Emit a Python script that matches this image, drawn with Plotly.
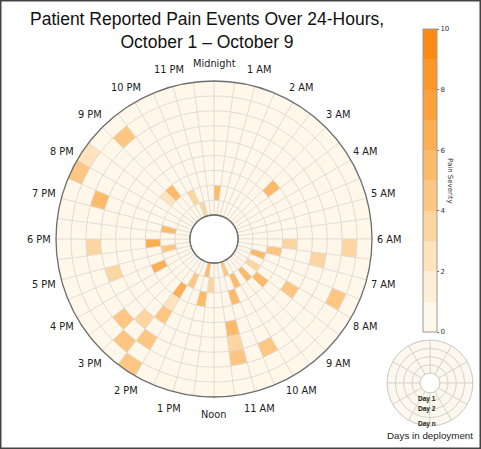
import numpy as np
import plotly.graph_objects as go

N_DAYS = 9
N_SLOTS = 48  # half-hour bins around the clock

hour_labels = [
    "Midnight", "1 AM", "2 AM", "3 AM", "4 AM", "5 AM", "6 AM", "7 AM",
    "8 AM", "9 AM", "10 AM", "11 AM", "Noon", "1 PM", "2 PM", "3 PM",
    "4 PM", "5 PM", "6 PM", "7 PM", "8 PM", "9 PM", "10 PM", "11 PM",
]

# pain events: day in deployment (ring), half-hour slot, severity
event_day = [
    2, 1, 2, 3, 3, 4, 8, 9, 9, 7,
    2, 3, 2, 7, 3, 6, 3, 2, 1, 2,
    3, 4, 5, 6, 7, 7, 8, 9, 5, 6,
    7, 7, 3, 1, 2, 2, 2, 2, 3, 3,
    4, 5, 6, 8, 8,
]
event_slot = [
    0, 45, 44, 42, 41, 6, 42, 40, 39, 38,
    37, 35, 34, 35, 32, 33, 28, 27, 25, 24,
    25, 28, 28, 29, 30, 28, 29, 28, 22, 22,
    22, 20, 21, 21, 20, 18, 16, 14, 17, 13,
    12, 16, 13, 15, 12,
]
event_severity = [
    5.5, 3, 3.5, 5, 2.5, 5, 4, 2, 4, 5,
    5, 6, 4.5, 3, 6, 3, 6, 4.5, 5, 3,
    5, 2.5, 4.5, 3, 4.5, 4.5, 4.5, 4, 5, 3,
    4, 4, 5, 4.5, 5, 5, 3, 5, 5, 4,
    3, 4.5, 3, 4.5, 3,
]

severity_ticks = [0, 2, 4, 6, 8, 10]
band_colors = [
    "#fff8ea", "#feefd8", "#fee3bd", "#fdd5a0", "#fdc783",
    "#fdba69", "#fdad52", "#fda13c", "#fd9628", "#fd8b12",
]

W, H = 481, 449

# stepped colour scale, one band per severity unit
colorscale = []
for i, c in enumerate(band_colors):
    colorscale.append([i / len(band_colors), c])
    colorscale.append([(i + 1) / len(band_colors), c])

grid = np.zeros((N_DAYS, N_SLOTS))
for d, s, v in zip(event_day, event_slot, event_severity):
    grid[d - 1, s] = v

slot_width = 360 / N_SLOTS
r_vals, base_vals, theta_vals, color_vals = [], [], [], []
for d in range(N_DAYS):
    for s in range(N_SLOTS):
        r_vals.append(1)
        base_vals.append(d)
        theta_vals.append(s * slot_width + slot_width / 2)
        color_vals.append(grid[d, s])

cx, cy, R = 214, 239, 158
hole_px = 24
label_px = 175.5  # hour labels are centred on this radius

kx, ky, kR = 430, 383, 43

fig = go.Figure()

fig.add_trace(
    go.Barpolar(
        r=r_vals,
        base=base_vals,
        theta=theta_vals,
        width=slot_width,
        marker=dict(
            color=color_vals,
            colorscale=colorscale,
            cmin=0,
            cmax=10,
            line=dict(color="#dedad2", width=0.7),
            colorbar=dict(
                x=423 / W,
                xanchor="left",
                xpad=0,
                y=1 - 180.5 / H,
                yanchor="middle",
                ypad=0,
                thickness=14,
                len=303,
                lenmode="pixels",
                outlinecolor="#9a9a9a",
                outlinewidth=1,
                tickvals=severity_ticks,
                ticks="outside",
                ticklen=2,
                tickcolor="#666",
                tickfont=dict(family="DejaVu Sans", size=7, color="#333"),
            ),
        ),
        hoverinfo="skip",
        subplot="polar",
    )
)

# outline of the centre hole
hole_theta = np.linspace(0, 360, 97)
fig.add_trace(
    go.Scatterpolar(
        r=[0] * len(hole_theta),
        theta=hole_theta,
        mode="lines",
        line=dict(color="#6e6e6e", width=1.3),
        hoverinfo="skip",
        subplot="polar",
    )
)

# small key diagram: rings = days in deployment
key_rings = 4
key_sectors = 12
key_r, key_base, key_theta = [], [], []
for d in range(key_rings):
    for s in range(key_sectors):
        key_r.append(1)
        key_base.append(d)
        key_theta.append(s * 30 + 15)

fig.add_trace(
    go.Barpolar(
        r=key_r,
        base=key_base,
        theta=key_theta,
        width=30,
        marker=dict(color="#fdf8ee", line=dict(color="#d3d0ca", width=0.8)),
        hoverinfo="skip",
        subplot="polar2",
    )
)

# hour labels centred on a ring just outside the chart (matplotlib style)
annotations = []
for i, label in enumerate(hour_labels):
    ang = np.radians(15 * i)
    annotations.append(dict(
        text=label,
        x=(cx + label_px * np.sin(ang)) / W,
        y=1 - (cy - label_px * np.cos(ang)) / H,
        xref="paper", yref="paper",
        xanchor="center", yanchor="middle",
        showarrow=False,
        font=dict(family="DejaVu Sans", size=9.8, color="#222"),
    ))

small = dict(family="Liberation Sans", size=6.5, color="#222")
annotations += [
    dict(
        text="Patient Reported Pain Events Over 24-Hours,<br>October 1 \u2013 October 9",
        x=207 / W, y=1 - 7 / H, xref="paper", yref="paper",
        xanchor="center", yanchor="top", showarrow=False,
        font=dict(family="Liberation Sans", size=17.5, color="#111"),
    ),
    dict(text="Pain Severity", x=450 / W, y=1 - 181 / H, xref="paper", yref="paper",
         xanchor="center", yanchor="middle", textangle=90, showarrow=False,
         font=dict(family="DejaVu Sans", size=7, color="#333")),
    dict(text="<b>Day 1</b>", x=427 / W, y=1 - 399 / H, xref="paper", yref="paper",
         xanchor="center", yanchor="middle", showarrow=False, font=small),
    dict(text="<b>Day 2</b>", x=427 / W, y=1 - 409 / H, xref="paper", yref="paper",
         xanchor="center", yanchor="middle", showarrow=False, font=small),
    dict(text="<b>Day n</b>", x=427 / W, y=1 - 424 / H, xref="paper", yref="paper",
         xanchor="center", yanchor="middle", showarrow=False, font=small),
    dict(text="Days in deployment", x=430 / W, y=1 - 435 / H, xref="paper", yref="paper",
         xanchor="center", yanchor="middle", showarrow=False,
         font=dict(family="Liberation Sans", size=9.8, color="#222")),
]

fig.update_layout(
    width=W,
    height=H,
    margin=dict(l=0, r=0, t=0, b=0),
    paper_bgcolor="white",
    showlegend=False,
    polar=dict(
        domain=dict(
            x=[(cx - R) / W, (cx + R) / W],
            y=[1 - (cy + R) / H, 1 - (cy - R) / H],
        ),
        hole=hole_px / R,
        bgcolor="white",
        radialaxis=dict(
            range=[0, N_DAYS],
            tickvals=list(range(N_DAYS + 1)),
            showticklabels=False,
            ticks="",
            showline=False,
            gridcolor="#c2bfb9",
            gridwidth=0.8,
            layer="above traces",
        ),
        angularaxis=dict(
            rotation=90,
            direction="clockwise",
            tickmode="array",
            tickvals=[15 * i for i in range(24)],
            showticklabels=False,
            ticks="",
            showline=True,
            linecolor="#6e6e6e",
            linewidth=1.3,
            gridcolor="#c2bfb9",
            gridwidth=0.8,
            layer="above traces",
        ),
    ),
    polar2=dict(
        domain=dict(
            x=[(kx - kR) / W, (kx + kR) / W],
            y=[1 - (ky + kR) / H, 1 - (ky - kR) / H],
        ),
        hole=0.23,
        bgcolor="white",
        radialaxis=dict(range=[0, key_rings], visible=False),
        angularaxis=dict(
            showticklabels=False,
            ticks="",
            showgrid=False,
            showline=True,
            linecolor="#cfcdc8",
            linewidth=1,
        ),
    ),
    annotations=annotations,
    shapes=[
        dict(type="rect", xref="paper", yref="paper",
             x0=0.75 / W, x1=1 - 0.75 / W, y0=0.75 / H, y1=1 - 0.75 / H,
             line=dict(color="#444", width=1.5)),
    ],
)

# the page body has a default 8px margin; drop it so the figure fills the window
fig.write_html(
    "out.html",
    config={"displayModeBar": False},
    post_script="document.body.style.margin='0px';",
)
